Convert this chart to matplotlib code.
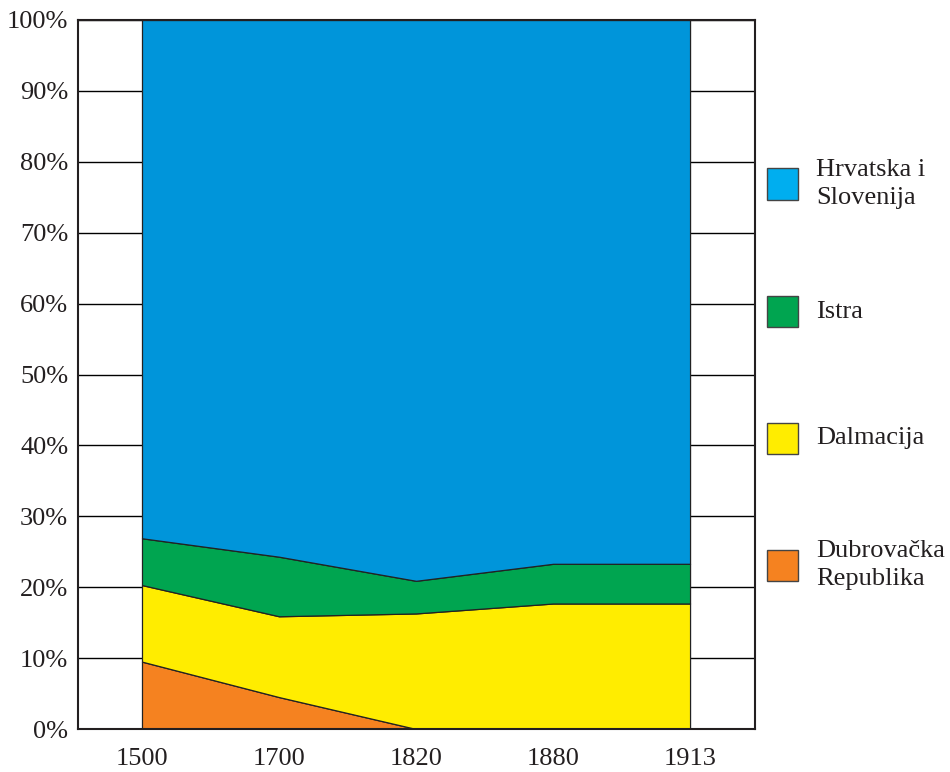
import matplotlib.pyplot as plt
from matplotlib.patches import Rectangle
import numpy as np

plt.rcParams['font.family'] = ['Liberation Serif', 'DejaVu Serif']

years = ["1500", "1700", "1820", "1880", "1913"]
dubrovacka = [9.5, 4.5, 0.0, 0.0, 0.0]
dalmacija = [10.8, 11.4, 16.3, 17.7, 17.7]
istra = [6.6, 8.4, 4.6, 5.6, 5.6]
hrv_slo = [100 - a - b - c for a, b, c in zip(dubrovacka, dalmacija, istra)]

names = ["Dubrovačka\nRepublika", "Dalmacija", "Istra", "Hrvatska i\nSlovenija"]
area_colors = ["#F58220", "#FFED00", "#00A550", "#0095DA"]
swatch_colors = ["#F58220", "#FFED00", "#00A550", "#00AEEF"]

fig = plt.figure(figsize=(9.5, 7.72), dpi=100)
W, H = 950, 772
ax = fig.add_axes([78 / W, 1 - 729 / H, (755 - 78) / W, (729 - 20) / H])

x = np.arange(len(years))
ax.set_axisbelow(True)
ax.yaxis.grid(True, color="black", linewidth=1.0)
ax.stackplot(x, dubrovacka, dalmacija, istra, hrv_slo,
             colors=area_colors, edgecolor="#222222", linewidth=0.9)

ax.set_xlim(-0.467, 4.474)
ax.set_ylim(0, 100)
ax.set_xticks(x)
ax.set_xticklabels(years)
ax.set_yticks(range(0, 101, 10))
ax.set_yticklabels([f"{v}%" for v in range(0, 101, 10)])
ax.tick_params(axis="both", length=0, labelsize=19, colors="#231F20")
ax.tick_params(axis="x", pad=14)
ax.tick_params(axis="y", pad=7)
for s in ax.spines.values():
    s.set_linewidth(1.5)
    s.set_color("#231F20")

# legend, top to bottom
centers = [184, 312, 438, 565]
for cy, name, col in zip(centers, names[::-1], swatch_colors[::-1]):
    fig.add_artist(Rectangle((767 / W, 1 - (cy + 15.5) / H), 31 / W, 31 / H,
                             facecolor=col, edgecolor="#444444", linewidth=1,
                             transform=fig.transFigure))
    fig.text(816 / W, 1 - cy / H, name, fontsize=19, va="center", ha="left",
             color="#231F20", linespacing=1.35)

fig.savefig("out.png", dpi=100)
